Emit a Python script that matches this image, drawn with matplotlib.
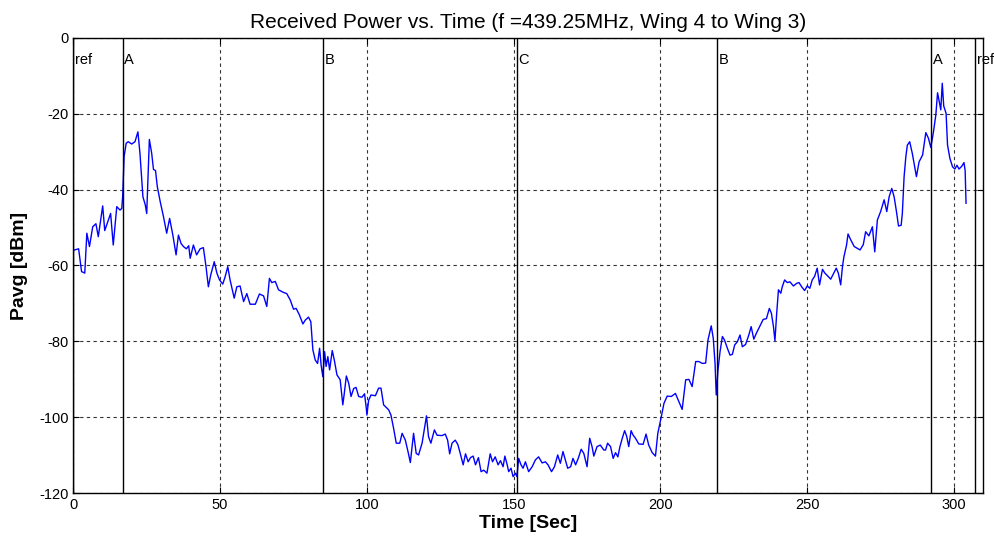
import numpy as np
import matplotlib.pyplot as plt
import matplotlib as mpl

# trace (time in sec, power in dBm)
t = [0, 1.8, 2.8, 3.9, 4.6, 5.5, 6.6, 7.7, 8.5, 10.0, 10.7, 11.5, 12.7, 13.6, 14.8, 15.9, 16.5,
     16.8, 17.3, 18.0, 18.7, 19.9, 21.0, 22.0, 22.7, 23.7, 24.5, 25.0, 25.9, 26.7, 27.3, 28.0,
     28.6, 29.6, 30.7, 31.8, 32.8, 33.9, 35.0, 35.8, 36.7, 37.5, 38.5, 39.3, 39.8, 40.9, 42.0,
     43.2, 44.3, 45.2, 46.0, 46.8, 48.0, 48.9, 49.8, 50.9, 51.7, 52.6, 53.4, 54.8, 55.7, 56.8,
     58.0, 59.1, 60.2, 62.0, 63.4, 64.8, 65.9, 66.8, 67.6, 68.8, 69.9, 71.6, 72.7, 73.9, 75.0,
     75.9, 77.0, 78.2, 79.0, 80.1, 80.9, 81.6, 82.4, 83.2, 83.9, 84.4, 85.0, 85.6, 86.1, 86.7,
     87.3, 88.2, 88.9, 89.8, 90.9, 91.8, 92.3, 93.0, 93.8, 94.6, 95.5, 96.3, 97.2, 98.3, 99.2,
     99.8, 100.0, 100.6, 101.4, 102.9, 104.0, 104.8, 105.7, 107.4, 108.2, 109.1, 110.0, 111.2,
     112.0, 113.1, 114.0, 114.8, 115.9, 116.8, 117.6, 118.8, 120.3, 121.0, 121.8, 123.0, 123.9,
     125.6, 126.7, 127.5, 128.2, 129.0, 130.1, 131.0, 131.8, 132.8, 133.6, 134.5, 135.3, 136.2,
     137.0, 138.0, 138.9, 139.8, 140.9, 142.0, 142.8, 143.7, 144.7, 145.5, 146.4, 147.0, 147.8,
     148.3, 149.1, 149.8, 150.6, 151.1, 151.7, 152.5, 153.2, 154.0, 155.1, 156.3, 157.4, 158.5,
     159.7, 160.8, 161.7, 162.9, 163.9, 165.0, 165.9, 166.8, 167.6, 168.4, 169.4, 170.2, 171.1,
     172.0, 173.0, 173.9, 175.0, 175.9, 176.7, 177.3, 178.4, 179.5, 180.7, 181.3, 182.0, 183.0,
     183.9, 184.7, 185.5, 186.2, 187.0, 187.8, 188.5, 189.2, 190.0, 190.7, 191.5, 192.6, 194.1,
     195.1, 196.0, 197.2, 198.3, 199.1, 200.3, 201.2, 202.3, 203.7, 205.1, 206.3, 207.4, 208.6,
     209.7, 210.8, 212.0, 213.1, 214.3, 215.4, 216.2, 217.3, 218.0, 218.6, 219.0, 219.6, 220.3,
     221.1, 221.8, 222.8, 223.7, 224.5, 225.3, 226.2, 227.1, 227.9, 229.0, 230.1, 230.9, 231.8,
     232.7, 233.9, 235.0, 236.1, 237.1, 237.8, 238.5, 239.0, 239.6, 240.2, 241.0, 241.5, 242.3,
     243.2, 244.1, 245.3, 246.4, 247.2, 248.1, 249.1, 250.0, 250.9, 251.7, 252.5, 253.4, 254.2,
     255.2, 256.0, 256.9, 258.0, 258.9, 259.9, 260.6, 261.4, 262.0, 262.5, 263.4, 263.9, 264.8,
     266.0, 268.0, 269.1, 269.9, 271.0, 272.2, 273.0, 273.9, 275.0, 276.2, 277.1, 277.9, 278.8,
     279.6, 280.4, 281.1, 282.0, 282.4, 283.0, 283.6, 284.1, 284.9, 285.8, 287.2, 288.1, 289.3,
     290.4, 291.3, 292.1, 293.0, 293.8, 294.4, 295.0, 295.5, 296.0, 296.5, 297.3, 297.8, 298.6,
     299.5, 300.3, 301.0, 301.7, 302.6, 303.4, 303.8, 304.1]
p = [-56.0, -55.6, -61.6, -62.0, -51.5, -55.0, -49.8, -49.0, -52.4, -44.3, -50.8, -49.0, -46.3,
     -54.6, -44.5, -45.4, -45.0,
     -41.9, -31.3, -27.8, -27.4, -28.0, -27.4, -24.8, -30.5, -41.9, -44.0, -46.3, -26.8, -30.5,
     -34.7, -35.0, -39.2, -43.2, -47.1, -51.5, -47.6, -52.0, -57.2, -52.0, -54.2, -55.0, -55.6,
     -54.8, -58.1, -54.6, -57.2, -55.6, -55.3, -60.3, -65.6, -62.5, -59.0, -62.0, -63.8, -64.9,
     -63.0, -60.3, -63.8, -68.6, -65.6, -65.4, -69.5, -67.4, -70.2, -70.2, -67.5, -68.0, -70.8,
     -63.4, -64.5, -64.2, -66.4, -67.1, -67.4, -69.1, -71.5, -71.3, -73.0, -75.4, -74.4, -73.6,
     -74.8, -82.2, -84.9, -85.8, -81.8, -86.2, -89.3, -82.7, -86.6, -84.0, -87.5, -82.4, -84.9,
     -88.8, -90.1, -96.7, -93.7, -89.1, -91.0, -94.5, -92.4, -92.1, -94.5, -94.7, -93.8, -97.6,
     -99.4, -95.5, -94.1, -94.3, -92.3, -92.3, -96.7, -98.0, -99.4, -102.9, -106.8, -106.8,
     -104.2, -106.0, -109.0, -111.9, -104.2, -109.5, -109.9, -106.8, -99.6, -105.1, -106.8,
     -103.3, -104.7, -104.8, -104.4, -106.0, -109.6, -106.8, -106.0, -107.2, -109.5, -112.5,
     -109.6, -111.7, -110.6, -110.2, -112.5, -110.6, -114.3, -113.9, -114.7, -109.6, -111.7,
     -110.4, -112.5, -111.4, -113.0, -110.2, -112.5, -114.3, -113.4, -115.6, -114.7, -115.6,
     -110.8, -112.5, -113.4, -111.7, -114.3, -113.0, -111.2, -110.4, -112.0, -111.7, -112.5,
     -114.3, -113.0, -109.9, -112.1, -109.0, -111.2, -113.4, -113.0, -110.8, -112.5, -110.8,
     -108.4, -109.5, -113.0, -105.5, -107.7, -110.2, -107.7, -107.3, -108.6, -108.6, -106.8,
     -107.7, -110.8, -109.3, -110.4, -107.7, -105.5, -103.5, -105.0, -107.7, -103.5, -104.7,
     -105.5, -107.0, -107.1, -104.4, -107.3, -109.3, -110.2, -104.2, -99.8, -96.3, -94.4, -94.5,
     -93.7, -95.9, -97.9, -90.1, -90.0, -91.9, -85.3, -85.3, -85.8, -85.7, -79.6, -75.9, -79.2,
     -85.8, -94.1, -87.5, -82.7, -78.7, -79.6, -81.8, -83.6, -83.4, -80.9, -80.1, -78.3, -81.4,
     -80.8, -78.3, -76.1, -79.4, -77.8, -75.9, -74.2, -74.0, -71.3, -72.6, -76.1, -79.8, -72.6,
     -66.4, -67.3, -65.6, -63.8, -64.5, -64.3, -65.4, -64.7, -64.5, -65.6, -66.6, -65.4, -66.0,
     -63.8, -62.9, -60.7, -65.1, -61.0, -62.0, -62.7, -63.6, -62.2, -60.7, -62.0, -65.1, -60.3,
     -57.7, -54.6, -51.7, -53.2, -55.0, -55.9, -54.5, -51.1, -52.2, -49.8, -56.4, -48.0, -45.8,
     -42.7, -45.8, -41.9, -39.7, -41.9, -45.8, -49.6, -49.4, -46.3, -36.6, -31.3, -28.3, -27.4,
     -30.5, -36.6, -32.7, -30.9, -25.0, -26.5, -28.9, -24.8, -20.4, -14.5, -16.9, -19.0, -12.0,
     -18.0, -19.9, -28.3, -31.8, -34.0, -34.6, -33.6, -34.6, -33.9, -32.9, -35.0, -43.6]

# position markers along the flight
mark_t = [0, 16.8, 84.9, 151.1, 219.3, 292.3, 307.2]
mark_lbl = ['ref', 'A', 'B', 'C', 'B', 'A', 'ref']

mpl.rcParams['font.family'] = ['Liberation Sans', 'DejaVu Sans']
mpl.rcParams['axes.unicode_minus'] = False

fig = plt.figure(figsize=(9.95, 5.44), dpi=100)
ax = fig.add_axes([0.0737, 0.0932, 0.9146, 0.8375])

ax.plot(t, p, color=(0, 0, 1), linewidth=1.0)

for x, s in zip(mark_t, mark_lbl):
    ax.axvline(x, color='black', linewidth=1.0)
    ax.text(x + 0.6, -5.8, s, fontsize=10.5, va='center', ha='left', clip_on=False)

ax.set_xlim(0, 310)
ax.set_ylim(-120, 0)
ax.set_xticks([0, 50, 100, 150, 200, 250, 300])
ax.set_yticks([-120, -100, -80, -60, -40, -20, 0])
ax.grid(True, color='black', linestyle=(0, (3, 3)), linewidth=0.8, alpha=0.8)
ax.tick_params(direction='in', top=True, right=True, labelsize=10.5, length=4)
for sp in ax.spines.values():
    sp.set_linewidth(1.0)

ax.set_title('Received Power vs. Time (f =439.25MHz, Wing 4 to Wing 3)', fontsize=15, pad=7)
ax.set_xlabel('Time [Sec]', fontsize=14, fontweight='bold', labelpad=2)
ax.set_ylabel('Pavg [dBm]', fontsize=14, fontweight='bold', labelpad=8)

fig.savefig('out.png', dpi=100)
